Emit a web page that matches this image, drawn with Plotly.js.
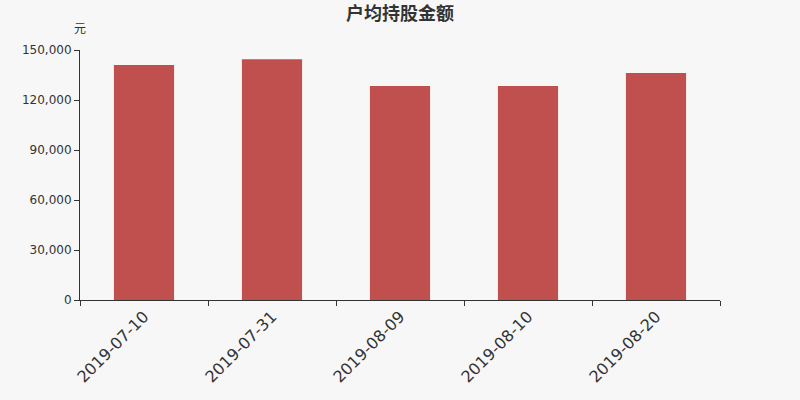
<!DOCTYPE html>
<html><head><meta charset="utf-8">
<script src="https://cdn.plot.ly/plotly-3.0.1.min.js"></script>
<style>html,body{margin:0;padding:0;background:#f7f7f7;}</style>
</head><body>
<div id="chart" style="width:800px;height:400px;"></div>
<script>
var categories = ["2019-07-10", "2019-07-31", "2019-08-09", "2019-08-10", "2019-08-20"];
var values = [141000, 144400, 128400, 128400, 136200];
var yTicks = [0, 30000, 60000, 90000, 120000, 150000];
var yTickLabels = ["0", "30,000", "60,000", "90,000", "120,000", "150,000"];
var chartTitle = "户均持股金额";
var unitLabel = "元";

var cjk = "'Noto Sans CJK SC', sans-serif";
var latin = "'DejaVu Sans', sans-serif";
Plotly.newPlot("chart", [{
  type: "bar",
  x: categories,
  y: values,
  marker: {color: "#c0504d"},
  width: 0.47,
  hoverinfo: "x+y"
}], {
  width: 800, height: 400,
  paper_bgcolor: "#f7f7f7",
  plot_bgcolor: "#f7f7f7",
  margin: {l: 80, r: 80, t: 50, b: 100},
  font: {family: latin, color: "#333"},
  title: {text: "<b>" + chartTitle + "</b>", x: 0.5, xanchor: "center", y: 0.965, yanchor: "middle", font: {size: 18, color: "#333", family: cjk}},
  showlegend: false,
  xaxis: {
    type: "category",
    tickangle: -45,
    tickson: "boundaries",
    ticks: "outside", ticklen: 5, tickcolor: "#333",
    showline: true, linecolor: "#333", linewidth: 1,
    showgrid: false, zeroline: false,
    tickfont: {size: 16, color: "#333", family: latin},
    range: [-0.5, 4.5]
  },
  yaxis: {
    range: [0, 150000],
    tickvals: yTicks, ticktext: yTickLabels,
    ticks: "outside", ticklen: 5, tickcolor: "#333",
    showline: true, linecolor: "#333", linewidth: 1,
    showgrid: false, zeroline: false,
    tickfont: {size: 12, color: "#333", family: latin}
  },
  annotations: [{
    text: unitLabel, xref: "paper", yref: "paper", x: 0, y: 1, xanchor: "center", yanchor: "bottom",
    yshift: 12, showarrow: false, font: {size: 12, color: "#333", family: cjk}
  }]
}, {displayModeBar: false});
</script>
</body></html>
